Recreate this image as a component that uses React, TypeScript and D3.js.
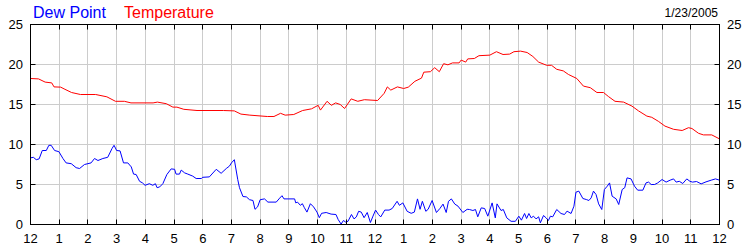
import React from "react";
import * as d3 from "d3";

const hourLabels = ["12","1","2","3","4","5","6","7","8","9","10","11","12","1","2","3","4","5","6","7","8","9","10","11","12"];
const yTicks = [0, 5, 10, 15, 20, 25];

const tempHours = [0, 0.28, 0.51, 0.74, 0.82, 1.05, 1.2, 1.43, 1.74, 2.27, 2.66, 2.96, 3.27, 3.5, 4.27, 4.42, 4.73, 4.96, 5.1, 5.34, 5.8, 6.72, 7.1, 7.33, 7.64, 8.25, 8.48, 8.71, 8.87, 9.17, 9.48, 9.79, 10.02, 10.1, 10.33, 10.48, 10.63, 10.79, 10.94, 11.17, 11.4, 11.63, 12.09, 12.32, 12.43, 12.55, 12.78, 13.0, 13.16, 13.39, 13.62, 13.7, 13.93, 14.08, 14.24, 14.39, 14.54, 14.7, 14.93, 15.0, 15.16, 15.23, 15.46, 15.62, 16.0, 16.23, 16.46, 16.69, 16.84, 17.07, 17.3, 17.5, 17.7, 17.98, 18.15, 18.33, 18.56, 18.74, 19.03, 19.26, 19.5, 19.73, 19.96, 20.13, 20.36, 20.66, 20.95, 21.18, 21.47, 21.64, 21.87, 22.1, 22.4, 22.7, 22.92, 23.04, 23.27, 23.44, 23.73, 24];
const tempValues = [18.25, 18.2, 17.8, 17.7, 17.2, 17.17, 16.9, 16.5, 16.25, 16.25, 15.96, 15.4, 15.4, 15.2, 15.2, 15.3, 15.1, 14.67, 14.67, 14.4, 14.25, 14.25, 14.2, 13.8, 13.67, 13.5, 13.5, 13.9, 13.67, 13.75, 14.25, 14.46, 14.9, 14.3, 15.4, 14.9, 15.2, 15.0, 14.5, 15.7, 15.4, 15.6, 15.5, 16.4, 17.2, 16.8, 17.2, 17.0, 17.17, 17.9, 18.3, 19.04, 19.1, 19.6, 19.1, 20.1, 19.96, 20.2, 20.2, 20.55, 20.3, 20.7, 20.75, 21.1, 21.17, 21.6, 21.25, 21.3, 21.6, 21.67, 21.5, 21.0, 20.3, 19.9, 19.9, 19.4, 19.2, 18.75, 18.25, 17.3, 17.1, 16.5, 16.5, 16.0, 15.4, 15.3, 14.8, 14.2, 13.55, 13.4, 12.9, 12.3, 11.9, 11.75, 12.1, 12.0, 11.4, 11.2, 11.2, 10.7];

const dewHours = [0, 0.1, 0.2, 0.3, 0.41, 0.55, 0.64, 0.72, 0.84, 0.99, 1.13, 1.24, 1.42, 1.59, 1.71, 1.88, 2.11, 2.23, 2.35, 2.52, 2.69, 2.84, 2.91, 3.0, 3.12, 3.24, 3.39, 3.51, 3.59, 3.68, 3.8, 3.9, 3.99, 4.14, 4.26, 4.35, 4.41, 4.5, 4.61, 4.75, 4.9, 5.02, 5.07, 5.19, 5.25, 5.37, 5.48, 5.65, 5.77, 5.95, 6.0, 6.23, 6.47, 6.64, 6.82, 6.93, 7.0, 7.1, 7.22, 7.28, 7.4, 7.52, 7.63, 7.75, 7.82, 7.91, 8.0, 8.15, 8.27, 8.56, 8.68, 8.76, 8.83, 9.0, 9.2, 9.24, 9.3, 9.4, 9.47, 9.54, 9.63, 9.75, 9.86, 9.98, 10.06, 10.14, 10.3, 10.47, 10.64, 10.72, 10.82, 10.9, 10.98, 11.06, 11.18, 11.27, 11.35, 11.43, 11.52, 11.62, 11.73, 11.84, 11.93, 12.02, 12.12, 12.2, 12.34, 12.49, 12.6, 12.77, 12.85, 12.97, 13.12, 13.26, 13.37, 13.48, 13.57, 13.65, 13.77, 13.85, 13.99, 14.14, 14.26, 14.37, 14.48, 14.56, 14.66, 14.78, 14.89, 15.06, 15.21, 15.29, 15.41, 15.5, 15.58, 15.7, 15.82, 15.93, 16.08, 16.19, 16.25, 16.39, 16.47, 16.59, 16.74, 16.89, 17.01, 17.1, 17.21, 17.28, 17.36, 17.44, 17.52, 17.61, 17.7, 17.76, 17.87, 17.96, 18.04, 18.11, 18.19, 18.33, 18.48, 18.6, 18.69, 18.83, 18.93, 19.0, 19.1, 19.24, 19.36, 19.45, 19.53, 19.61, 19.7, 19.79, 19.9, 19.99, 20.09, 20.17, 20.26, 20.4, 20.49, 20.61, 20.7, 20.78, 20.92, 21.04, 21.15, 21.33, 21.44, 21.53, 21.62, 21.74, 21.85, 22.0, 22.14, 22.28, 22.4, 22.49, 22.6, 22.72, 22.86, 22.97, 23.06, 23.2, 23.36, 23.53, 23.71, 23.86, 24];
const dewValues = [8.33, 8.4, 8.1, 8.2, 9.25, 9.25, 9.9, 9.9, 9.25, 9.1, 8.25, 7.7, 7.6, 7.1, 7.0, 7.5, 7.7, 8.25, 8.0, 8.25, 8.4, 9.5, 9.9, 9.25, 9.2, 7.7, 7.7, 7.2, 6.3, 6.25, 5.4, 5.2, 4.9, 5.1, 4.9, 5.1, 4.6, 4.7, 5.1, 6.25, 6.95, 6.9, 6.3, 6.3, 6.8, 6.45, 6.3, 6.05, 5.75, 5.75, 5.9, 5.95, 6.9, 6.4, 7.0, 7.3, 7.7, 8.1, 5.6, 4.6, 3.5, 3.45, 3.1, 3.0, 1.9, 2.2, 3.1, 3.2, 2.8, 2.8, 3.3, 3.6, 3.2, 3.2, 3.2, 2.7, 2.8, 2.4, 2.6, 2.1, 1.55, 2.6, 2.2, 1.55, 0.85, 1.4, 1.5, 1.3, 1.25, 0.6, 0.05, 0.5, 0.3, 0.4, 1.25, 0.7, 0.95, 1.65, 1.55, 0.85, 1.5, 0.25, 1.05, 1.8, 1.25, 0.95, 1.8, 1.8, 2.0, 2.9, 2.4, 2.7, 1.65, 1.4, 1.55, 3.2, 1.9, 2.9, 1.65, 1.9, 3.0, 1.5, 2.0, 2.55, 1.5, 2.9, 3.2, 2.55, 2.3, 1.5, 1.9, 1.875, 1.75, 1.875, 0.96, 2.08, 2.0, 1.04, 2.7, 0.83, 2.58, 1.75, 1.875, 0.83, 0.4, 0.4, 1.04, 0.54, 1.375, 0.75, 1.375, 0.83, 1.04, 0.7, 0.96, 0.21, 1.125, 0.83, 0.5, 1.04, 0.96, 1.875, 1.375, 1.25, 1.67, 1.375, 2.29, 4.04, 4.17, 3.25, 3.125, 3.0, 3.33, 4.17, 3.75, 2.58, 1.875, 4.375, 4.79, 5.2, 3.54, 3.2, 2.5, 4.375, 4.6, 5.83, 5.7, 4.79, 4.29, 4.29, 5.2, 5.3, 5.0, 5.0, 5.2, 5.625, 5.3, 5.54, 5.7, 5.3, 5.4, 5.125, 5.7, 5.4, 5.3, 5.375, 5.08, 5.33, 5.54, 5.7, 5.54];

const W = 750, H = 250;
const L = 30.5, R = 719.5, T = 24.5, B = 224.5;
const FONT = "'Liberation Sans', Arial, sans-serif";

export default function App() {
  const x = d3.scaleLinear().domain([0, 24]).range([L, R]);
  const y = d3.scaleLinear().domain([0, 25]).range([B, T]);
  const px = (v: number) => Math.round(v - 0.5) + 0.5;

  const tempData = tempHours.map((h, i) => [h, tempValues[i]] as [number, number]);
  const dewData = dewHours.map((h, i) => [h, dewValues[i]] as [number, number]);
  const line = d3.line<[number, number]>().x(d => x(d[0])).y(d => y(d[1]));

  return (
    <svg width={W} height={H} style={{ position: "fixed", left: 0, top: 0, background: "#fff" }} fontFamily={FONT}>
      <rect x={0} y={0} width={W} height={H} fill="#fff" />
      {hourLabels.map((_, i) => i > 0 && i < 24 ? (
        <line key={"vg" + i} x1={px(x(i))} x2={px(x(i))} y1={T} y2={B} stroke="#cccccc" strokeWidth={1} />
      ) : null)}
      {yTicks.filter(v => v > 0 && v < 25).map(v => (
        <line key={"hg" + v} x1={L} x2={R} y1={px(y(v))} y2={px(y(v))} stroke="#cccccc" strokeWidth={1} />
      ))}
      <path d={line(tempData) || ""} fill="none" stroke="#ff0000" strokeWidth={1} />
      <path d={line(dewData) || ""} fill="none" stroke="#0000ff" strokeWidth={1} />
      <rect x={L} y={T} width={R - L} height={B - T} fill="none" stroke="#000" strokeWidth={1} />
      {hourLabels.map((lab, i) => (
        <g key={"xt" + i}>
          <line x1={px(x(i))} x2={px(x(i))} y1={B} y2={B - 5} stroke="#000" />
          <line x1={px(x(i))} x2={px(x(i))} y1={T} y2={T + 5} stroke="#000" />
          <text x={x(i)} y={243} textAnchor="middle" fontSize={13} fill="#000">{lab}</text>
        </g>
      ))}
      {yTicks.map(v => (
        <g key={"yt" + v}>
          <line x1={L} x2={L + 5} y1={px(y(v))} y2={px(y(v))} stroke="#000" />
          <line x1={R} x2={R - 5} y1={px(y(v))} y2={px(y(v))} stroke="#000" />
          <text x={23} y={y(v) + 4.5} textAnchor="end" fontSize={13} fill="#000">{v}</text>
          <text x={727} y={y(v) + 4.5} textAnchor="start" fontSize={13} fill="#000">{v}</text>
        </g>
      ))}
      <text x={33} y={18} fontSize={16} fill="#0000ff">Dew Point</text>
      <text x={124} y={18} fontSize={16} fill="#ff0000">Temperature</text>
      <text x={718} y={17} textAnchor="end" fontSize={12} fill="#000">1/23/2005</text>
    </svg>
  );
}
